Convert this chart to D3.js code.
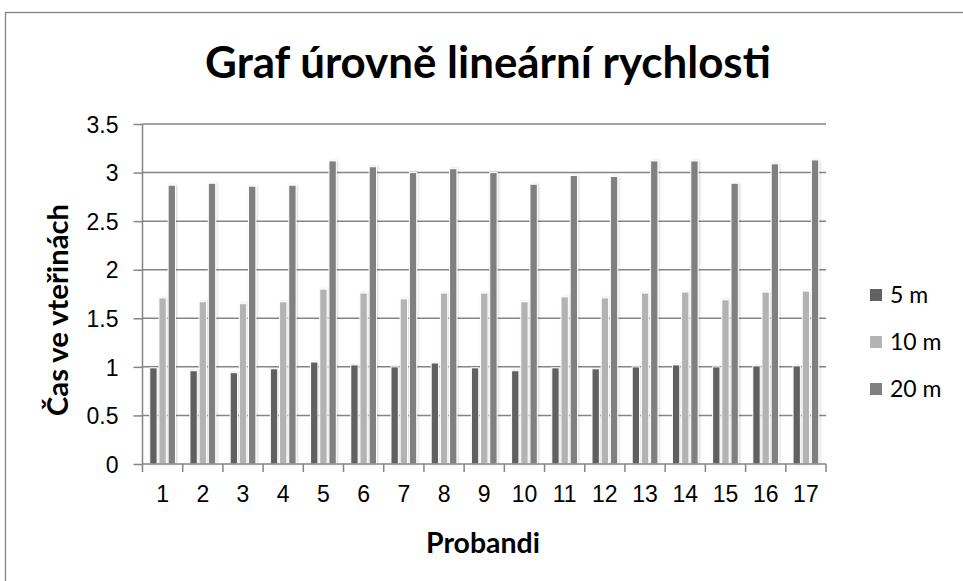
<!DOCTYPE html>
<html lang="cs">
<head>
    <meta charset="UTF-8">
    <title>Graf úrovně lineární rychlosti</title>
    <script src="https://d3js.org/d3.v7.min.js"></script>
    <style>
        body { margin: 0; background: #fff; }
        svg { display: block; font-family: Lato, "Open Sans", sans-serif; }
    </style>
</head>
<body>
    <svg id="chart"></svg>
    <script>
    // data
    const probandi = ["1","2","3","4","5","6","7","8","9","10","11","12","13","14","15","16","17"];
    const series = ["5 m", "10 m", "20 m"];
    const t5  = [0.99, 0.96, 0.94, 0.98, 1.05, 1.02, 1.00, 1.04, 0.99, 0.96, 0.99, 0.98, 1.00, 1.02, 1.00, 1.01, 1.01];
    const t10 = [1.71, 1.67, 1.65, 1.67, 1.80, 1.76, 1.70, 1.76, 1.76, 1.67, 1.72, 1.71, 1.76, 1.77, 1.69, 1.77, 1.78];
    const t20 = [2.87, 2.89, 2.86, 2.87, 3.12, 3.06, 3.00, 3.04, 3.00, 2.88, 2.97, 2.96, 3.12, 3.12, 2.89, 3.09, 3.13];
    const yTicks = [0, 0.5, 1, 1.5, 2, 2.5, 3, 3.5];
    const colors = ["#616161", "#b3b3b3", "#808080"];

    const width = 963, height = 581;
    const plot = { left: 142.5, right: 826, top: 124, bottom: 464 };
    const gridColor = "#858585";

    const svg = d3.select("#chart").attr("width", width).attr("height", height);

    // scale a text's font so it spans the given width
    function fitText(sel, base, target) {
        sel.attr("font-size", base);
        const w = sel.node().getComputedTextLength();
        sel.attr("font-size", base * target / w);
    }

    // outer chart border (right/bottom fall outside the window)
    svg.append("rect")
        .attr("x", 5.5).attr("y", 12.5)
        .attr("width", 1000).attr("height", 700)
        .attr("fill", "#fff").attr("stroke", gridColor).attr("stroke-width", 1.3);

    const defs = svg.append("defs");
    const shadow = defs.append("filter").attr("id", "shadow")
        .attr("x", "-60%").attr("y", "-10%").attr("width", "220%").attr("height", "120%");
    shadow.append("feDropShadow")
        .attr("dx", 1).attr("dy", 0).attr("stdDeviation", 1.2)
        .attr("flood-color", "#000").attr("flood-opacity", 0.18);

    const x0 = d3.scaleBand().domain(probandi).range([plot.left, plot.right]);
    const groupW = x0.bandwidth() * 0.64;
    const x1 = d3.scaleBand().domain(series).range([0, groupW]).paddingInner(0.2);
    const y = d3.scaleLinear().domain([0, 3.5]).range([plot.bottom, plot.top]);

    // gridlines
    svg.append("g")
        .selectAll("line")
        .data(yTicks.filter(d => d > 0))
        .join("line")
        .attr("x1", plot.left).attr("x2", plot.right)
        .attr("y1", d => y(d)).attr("y2", d => y(d))
        .attr("stroke", gridColor).attr("stroke-width", 1.5);

    // y axis
    const yAxis = svg.append("g")
        .attr("transform", `translate(${plot.left},0)`)
        .call(d3.axisLeft(y).tickValues(yTicks).tickSize(9).tickPadding(15).tickFormat(d => String(d)));
    yAxis.selectAll("line, path").attr("stroke", gridColor).attr("stroke-width", 1.5);
    yAxis.select(".domain").attr("d", `M0,${plot.bottom}V${plot.top}`);
    yAxis.selectAll("text").attr("font-size", 23).attr("fill", "#000").attr("dy", "0.36em");

    // bars
    const rows = probandi.map((p, i) => ({ p, vals: [t5[i], t10[i], t20[i]] }));
    const groups = svg.append("g")
        .selectAll("g")
        .data(rows)
        .join("g")
        .attr("transform", d => `translate(${x0(d.p) + (x0.bandwidth() - groupW) / 2},0)`);

    groups.selectAll("rect")
        .data(d => d.vals.map((v, k) => ({ s: series[k], v, k })))
        .join("rect")
        .attr("x", d => x1(d.s))
        .attr("y", d => y(d.v))
        .attr("width", x1.bandwidth())
        .attr("height", d => y(0) - y(d.v))
        .attr("fill", d => colors[d.k])
        .attr("stroke", "#fff").attr("stroke-width", 1)
        .attr("filter", "url(#shadow)");

    // x axis
    const xAxis = svg.append("g")
        .attr("transform", `translate(0,${plot.bottom})`)
        .call(d3.axisBottom(x0).tickSize(0).tickPadding(22));
    xAxis.select(".domain").attr("stroke", gridColor).attr("stroke-width", 1.5)
        .attr("d", `M${plot.left},0H${plot.right}`);
    xAxis.selectAll("text").attr("font-size", 23).attr("fill", "#000");
    // tick marks at category boundaries
    xAxis.append("g")
        .selectAll("line")
        .data(probandi.map((p, i) => i).concat([probandi.length]))
        .join("line")
        .attr("x1", i => plot.left + i * x0.step()).attr("x2", i => plot.left + i * x0.step())
        .attr("y1", 0).attr("y2", 8)
        .attr("stroke", gridColor).attr("stroke-width", 1.5);

    // title, fitted to the reference width
    const title = svg.append("text")
        .attr("x", 488).attr("y", 78)
        .attr("text-anchor", "middle")
        .attr("font-weight", "bold")
        .text("Graf úrovně lineární rychlosti");
    fitText(title, 40, 566);

    // axis titles
    const xTitle = svg.append("text")
        .attr("x", 483).attr("y", 553)
        .attr("text-anchor", "middle")
        .attr("font-weight", "bold")
        .text("Probandi");
    fitText(xTitle, 20, 114);

    const yTitle = svg.append("text")
        .attr("transform", "translate(68,310) rotate(-90)")
        .attr("text-anchor", "middle")
        .attr("font-weight", "bold")
        .text("Čas ve vteřinách");
    fitText(yTitle, 20, 212);

    // legend
    const legend = svg.append("g").attr("transform", "translate(870,0)");
    const legendY = [295, 342, 389];
    series.forEach((s, k) => {
        legend.append("rect")
            .attr("x", 0).attr("y", legendY[k] - 6)
            .attr("width", 12).attr("height", 12)
            .attr("fill", colors[k]);
        legend.append("text")
            .attr("x", 20).attr("y", legendY[k])
            .attr("dy", "0.36em")
            .attr("font-size", 23)
            .text(s);
    });
    </script>
</body>
</html>
